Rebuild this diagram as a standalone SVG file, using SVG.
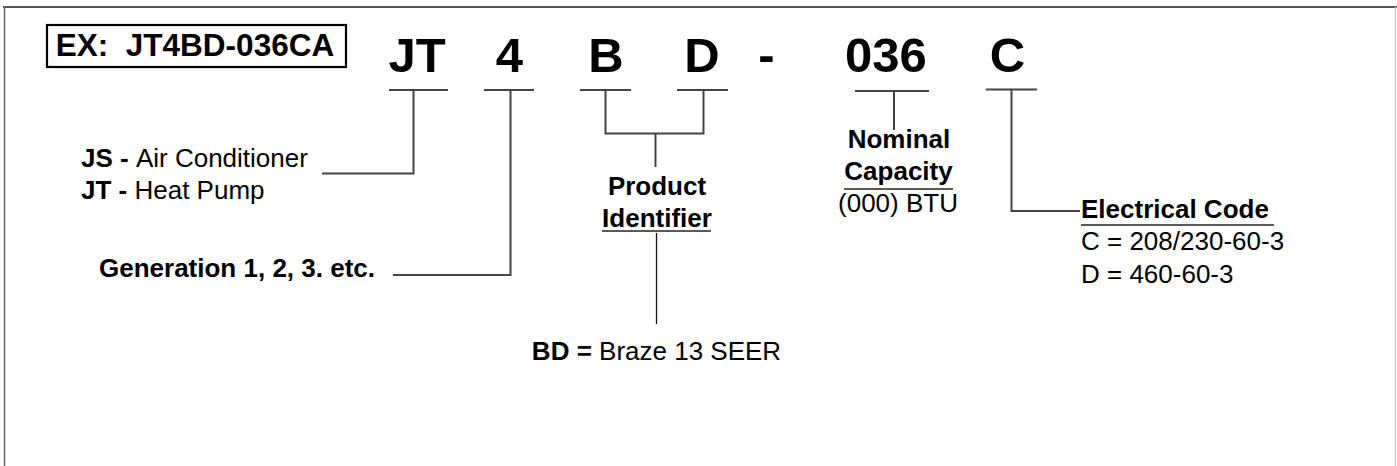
<svg xmlns="http://www.w3.org/2000/svg" width="1397" height="466" viewBox="0 0 1397 466">
<style>
  text { font-family: "Liberation Sans", Arial, Helvetica, sans-serif; fill: #000; }
  .big { font-size: 49px; font-weight: bold; text-anchor: middle; }
  .lbl { font-size: 26px; }
  .b { font-weight: bold; }
  .mid { text-anchor: middle; }
  .conn { fill: none; stroke: #444; stroke-width: 2; }
  .ul { stroke: #222; stroke-width: 1.5; }
</style>
<rect x="0" y="0" width="1397" height="466" fill="#fff"/>
<g id="frame">
  <line x1="3" y1="7" x2="1397" y2="7" stroke="#555" stroke-width="2"/>
  <line x1="4.5" y1="6" x2="4.5" y2="466" stroke="#666" stroke-width="1.5"/>
  <line x1="1395.5" y1="7" x2="1395.5" y2="466" stroke="#ccc" stroke-width="1.5"/>
</g>
<g id="example">
  <rect x="47" y="25" width="299" height="42" fill="none" stroke="#000" stroke-width="2.2"/>
  <text x="195" y="56" class="b mid" font-size="31.5">EX:&#160; JT4BD-036CA</text>
</g>
<g id="code">
  <text x="417" y="72" class="big">JT</text>
  <text x="509.5" y="72" class="big">4</text>
  <text x="606" y="72" class="big">B</text>
  <text x="702" y="72" class="big">D</text>
  <text x="766.5" y="72" class="big">-</text>
  <text x="886" y="72" class="big">036</text>
  <text x="1007.5" y="72" class="big">C</text>
</g>
<g id="connectors" class="conn">
  <line x1="389" y1="90" x2="448" y2="90"/>
  <polyline points="413.5,90 413.5,173.5 322,173.5"/>
  <line x1="484" y1="90" x2="534" y2="90"/>
  <polyline points="510.5,90 510.5,275 393,275"/>
  <line x1="580" y1="90" x2="631" y2="90"/>
  <line x1="677" y1="90" x2="728" y2="90"/>
  <polyline points="605.5,90 605.5,133.5 703.5,133.5 703.5,90"/>
  <line x1="655.5" y1="133.5" x2="655.5" y2="167"/>
  <line x1="656.5" y1="233" x2="656.5" y2="324" stroke="#111" stroke-width="1.3"/>
  <line x1="855" y1="91" x2="929" y2="91"/>
  <line x1="894" y1="91" x2="894" y2="130"/>
  <line x1="986" y1="89.5" x2="1037" y2="89.5"/>
  <polyline points="1011.5,89.5 1011.5,211 1080,211"/>
</g>
<g id="type-node">
  <text x="81" y="166.5" class="lbl"><tspan class="b">JS - </tspan>Air Conditioner</text>
  <text x="81" y="199" class="lbl"><tspan class="b">JT - </tspan>Heat Pump</text>
</g>
<g id="generation-node">
  <text x="99" y="276.5" class="lbl b">Generation 1, 2, 3. etc.</text>
</g>
<g id="product-node">
  <text x="657" y="195" class="lbl b mid">Product</text>
  <text x="657" y="227" class="lbl b mid">Identifier</text>
  <line x1="602" y1="231" x2="711" y2="231" class="ul"/>
</g>
<g id="bd-node">
  <text x="656.5" y="360" class="lbl mid"><tspan class="b">BD =</tspan> Braze 13 SEER</text>
</g>
<g id="capacity-node">
  <text x="899" y="148" class="lbl b mid">Nominal</text>
  <text x="898.5" y="180" class="lbl b mid">Capacity</text>
  <line x1="844" y1="189" x2="953" y2="189" class="ul"/>
  <text x="898" y="211.5" class="lbl mid">(000) BTU</text>
</g>
<g id="electrical-node">
  <text x="1081" y="217.5" class="lbl b">Electrical Code</text>
  <line x1="1081" y1="225" x2="1274" y2="225" class="ul"/>
  <text x="1081" y="250" class="lbl">C = 208/230-60-3</text>
  <text x="1081" y="282.5" class="lbl">D = 460-60-3</text>
</g>
</svg>
